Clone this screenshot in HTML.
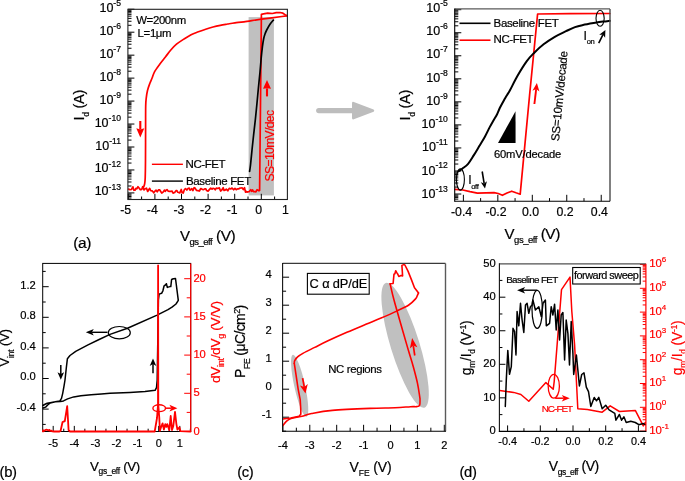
<!DOCTYPE html>
<html><head><meta charset="utf-8"><style>
html,body{margin:0;padding:0;background:#fff;width:685px;height:481px;overflow:hidden}
svg{display:block;will-change:transform}
text{font-family:"Liberation Sans", sans-serif}
</style></head><body>
<svg width="685" height="481" viewBox="0 0 685 481">
<rect width="685" height="481" fill="#fff"/>
<rect x="248.6" y="17.1" width="25.3" height="178.3" fill="#c0c0c0"/>
<line x1="127.90" y1="192.92" x2="134.40" y2="192.92" stroke="#000" stroke-width="1"/>
<line x1="127.90" y1="198.01" x2="131.50" y2="198.01" stroke="#000" stroke-width="1"/>
<line x1="127.90" y1="196.48" x2="131.50" y2="196.48" stroke="#000" stroke-width="1"/>
<line x1="127.90" y1="195.15" x2="131.50" y2="195.15" stroke="#000" stroke-width="1"/>
<line x1="127.90" y1="193.97" x2="131.50" y2="193.97" stroke="#000" stroke-width="1"/>
<line x1="127.90" y1="169.96" x2="134.40" y2="169.96" stroke="#000" stroke-width="1"/>
<line x1="127.90" y1="186.01" x2="131.50" y2="186.01" stroke="#000" stroke-width="1"/>
<line x1="127.90" y1="181.97" x2="131.50" y2="181.97" stroke="#000" stroke-width="1"/>
<line x1="127.90" y1="179.10" x2="131.50" y2="179.10" stroke="#000" stroke-width="1"/>
<line x1="127.90" y1="176.87" x2="131.50" y2="176.87" stroke="#000" stroke-width="1"/>
<line x1="127.90" y1="175.05" x2="131.50" y2="175.05" stroke="#000" stroke-width="1"/>
<line x1="127.90" y1="173.52" x2="131.50" y2="173.52" stroke="#000" stroke-width="1"/>
<line x1="127.90" y1="172.19" x2="131.50" y2="172.19" stroke="#000" stroke-width="1"/>
<line x1="127.90" y1="171.01" x2="131.50" y2="171.01" stroke="#000" stroke-width="1"/>
<line x1="127.90" y1="147.00" x2="134.40" y2="147.00" stroke="#000" stroke-width="1"/>
<line x1="127.90" y1="163.05" x2="131.50" y2="163.05" stroke="#000" stroke-width="1"/>
<line x1="127.90" y1="159.01" x2="131.50" y2="159.01" stroke="#000" stroke-width="1"/>
<line x1="127.90" y1="156.14" x2="131.50" y2="156.14" stroke="#000" stroke-width="1"/>
<line x1="127.90" y1="153.91" x2="131.50" y2="153.91" stroke="#000" stroke-width="1"/>
<line x1="127.90" y1="152.09" x2="131.50" y2="152.09" stroke="#000" stroke-width="1"/>
<line x1="127.90" y1="150.56" x2="131.50" y2="150.56" stroke="#000" stroke-width="1"/>
<line x1="127.90" y1="149.23" x2="131.50" y2="149.23" stroke="#000" stroke-width="1"/>
<line x1="127.90" y1="148.05" x2="131.50" y2="148.05" stroke="#000" stroke-width="1"/>
<line x1="127.90" y1="124.04" x2="134.40" y2="124.04" stroke="#000" stroke-width="1"/>
<line x1="127.90" y1="140.09" x2="131.50" y2="140.09" stroke="#000" stroke-width="1"/>
<line x1="127.90" y1="136.05" x2="131.50" y2="136.05" stroke="#000" stroke-width="1"/>
<line x1="127.90" y1="133.18" x2="131.50" y2="133.18" stroke="#000" stroke-width="1"/>
<line x1="127.90" y1="130.95" x2="131.50" y2="130.95" stroke="#000" stroke-width="1"/>
<line x1="127.90" y1="129.13" x2="131.50" y2="129.13" stroke="#000" stroke-width="1"/>
<line x1="127.90" y1="127.60" x2="131.50" y2="127.60" stroke="#000" stroke-width="1"/>
<line x1="127.90" y1="126.27" x2="131.50" y2="126.27" stroke="#000" stroke-width="1"/>
<line x1="127.90" y1="125.09" x2="131.50" y2="125.09" stroke="#000" stroke-width="1"/>
<line x1="127.90" y1="101.08" x2="134.40" y2="101.08" stroke="#000" stroke-width="1"/>
<line x1="127.90" y1="117.13" x2="131.50" y2="117.13" stroke="#000" stroke-width="1"/>
<line x1="127.90" y1="113.09" x2="131.50" y2="113.09" stroke="#000" stroke-width="1"/>
<line x1="127.90" y1="110.22" x2="131.50" y2="110.22" stroke="#000" stroke-width="1"/>
<line x1="127.90" y1="107.99" x2="131.50" y2="107.99" stroke="#000" stroke-width="1"/>
<line x1="127.90" y1="106.17" x2="131.50" y2="106.17" stroke="#000" stroke-width="1"/>
<line x1="127.90" y1="104.64" x2="131.50" y2="104.64" stroke="#000" stroke-width="1"/>
<line x1="127.90" y1="103.31" x2="131.50" y2="103.31" stroke="#000" stroke-width="1"/>
<line x1="127.90" y1="102.13" x2="131.50" y2="102.13" stroke="#000" stroke-width="1"/>
<line x1="127.90" y1="78.12" x2="134.40" y2="78.12" stroke="#000" stroke-width="1"/>
<line x1="127.90" y1="94.17" x2="131.50" y2="94.17" stroke="#000" stroke-width="1"/>
<line x1="127.90" y1="90.13" x2="131.50" y2="90.13" stroke="#000" stroke-width="1"/>
<line x1="127.90" y1="87.26" x2="131.50" y2="87.26" stroke="#000" stroke-width="1"/>
<line x1="127.90" y1="85.03" x2="131.50" y2="85.03" stroke="#000" stroke-width="1"/>
<line x1="127.90" y1="83.21" x2="131.50" y2="83.21" stroke="#000" stroke-width="1"/>
<line x1="127.90" y1="81.68" x2="131.50" y2="81.68" stroke="#000" stroke-width="1"/>
<line x1="127.90" y1="80.35" x2="131.50" y2="80.35" stroke="#000" stroke-width="1"/>
<line x1="127.90" y1="79.17" x2="131.50" y2="79.17" stroke="#000" stroke-width="1"/>
<line x1="127.90" y1="55.16" x2="134.40" y2="55.16" stroke="#000" stroke-width="1"/>
<line x1="127.90" y1="71.21" x2="131.50" y2="71.21" stroke="#000" stroke-width="1"/>
<line x1="127.90" y1="67.17" x2="131.50" y2="67.17" stroke="#000" stroke-width="1"/>
<line x1="127.90" y1="64.30" x2="131.50" y2="64.30" stroke="#000" stroke-width="1"/>
<line x1="127.90" y1="62.07" x2="131.50" y2="62.07" stroke="#000" stroke-width="1"/>
<line x1="127.90" y1="60.25" x2="131.50" y2="60.25" stroke="#000" stroke-width="1"/>
<line x1="127.90" y1="58.72" x2="131.50" y2="58.72" stroke="#000" stroke-width="1"/>
<line x1="127.90" y1="57.39" x2="131.50" y2="57.39" stroke="#000" stroke-width="1"/>
<line x1="127.90" y1="56.21" x2="131.50" y2="56.21" stroke="#000" stroke-width="1"/>
<line x1="127.90" y1="32.20" x2="134.40" y2="32.20" stroke="#000" stroke-width="1"/>
<line x1="127.90" y1="48.25" x2="131.50" y2="48.25" stroke="#000" stroke-width="1"/>
<line x1="127.90" y1="44.21" x2="131.50" y2="44.21" stroke="#000" stroke-width="1"/>
<line x1="127.90" y1="41.34" x2="131.50" y2="41.34" stroke="#000" stroke-width="1"/>
<line x1="127.90" y1="39.11" x2="131.50" y2="39.11" stroke="#000" stroke-width="1"/>
<line x1="127.90" y1="37.29" x2="131.50" y2="37.29" stroke="#000" stroke-width="1"/>
<line x1="127.90" y1="35.76" x2="131.50" y2="35.76" stroke="#000" stroke-width="1"/>
<line x1="127.90" y1="34.43" x2="131.50" y2="34.43" stroke="#000" stroke-width="1"/>
<line x1="127.90" y1="33.25" x2="131.50" y2="33.25" stroke="#000" stroke-width="1"/>
<line x1="127.90" y1="9.24" x2="134.40" y2="9.24" stroke="#000" stroke-width="1"/>
<line x1="127.90" y1="25.29" x2="131.50" y2="25.29" stroke="#000" stroke-width="1"/>
<line x1="127.90" y1="21.25" x2="131.50" y2="21.25" stroke="#000" stroke-width="1"/>
<line x1="127.90" y1="18.38" x2="131.50" y2="18.38" stroke="#000" stroke-width="1"/>
<line x1="127.90" y1="16.15" x2="131.50" y2="16.15" stroke="#000" stroke-width="1"/>
<line x1="127.90" y1="14.33" x2="131.50" y2="14.33" stroke="#000" stroke-width="1"/>
<line x1="127.90" y1="12.80" x2="131.50" y2="12.80" stroke="#000" stroke-width="1"/>
<line x1="127.90" y1="11.47" x2="131.50" y2="11.47" stroke="#000" stroke-width="1"/>
<line x1="127.90" y1="10.29" x2="131.50" y2="10.29" stroke="#000" stroke-width="1"/>
<line x1="128.30" y1="199.50" x2="128.30" y2="193.80" stroke="#000" stroke-width="1"/>
<line x1="141.60" y1="199.50" x2="141.60" y2="196.50" stroke="#000" stroke-width="1"/>
<line x1="154.90" y1="199.50" x2="154.90" y2="193.80" stroke="#000" stroke-width="1"/>
<line x1="168.20" y1="199.50" x2="168.20" y2="196.50" stroke="#000" stroke-width="1"/>
<line x1="181.50" y1="199.50" x2="181.50" y2="193.80" stroke="#000" stroke-width="1"/>
<line x1="194.80" y1="199.50" x2="194.80" y2="196.50" stroke="#000" stroke-width="1"/>
<line x1="208.10" y1="199.50" x2="208.10" y2="193.80" stroke="#000" stroke-width="1"/>
<line x1="221.40" y1="199.50" x2="221.40" y2="196.50" stroke="#000" stroke-width="1"/>
<line x1="234.70" y1="199.50" x2="234.70" y2="193.80" stroke="#000" stroke-width="1"/>
<line x1="248.00" y1="199.50" x2="248.00" y2="196.50" stroke="#000" stroke-width="1"/>
<line x1="261.30" y1="199.50" x2="261.30" y2="193.80" stroke="#000" stroke-width="1"/>
<line x1="274.60" y1="199.50" x2="274.60" y2="196.50" stroke="#000" stroke-width="1"/>
<text transform="translate(121.00,11.74)" font-size="12.5" fill="#000" stroke="#000" stroke-width="0.2" text-anchor="end"><tspan font-size="12.5">10</tspan><tspan font-size="8.6" dy="-5.9">-5</tspan></text>
<text transform="translate(121.00,34.70)" font-size="12.5" fill="#000" stroke="#000" stroke-width="0.2" text-anchor="end"><tspan font-size="12.5">10</tspan><tspan font-size="8.6" dy="-5.9">-6</tspan></text>
<text transform="translate(121.00,57.66)" font-size="12.5" fill="#000" stroke="#000" stroke-width="0.2" text-anchor="end"><tspan font-size="12.5">10</tspan><tspan font-size="8.6" dy="-5.9">-7</tspan></text>
<text transform="translate(121.00,80.62)" font-size="12.5" fill="#000" stroke="#000" stroke-width="0.2" text-anchor="end"><tspan font-size="12.5">10</tspan><tspan font-size="8.6" dy="-5.9">-8</tspan></text>
<text transform="translate(121.00,103.58)" font-size="12.5" fill="#000" stroke="#000" stroke-width="0.2" text-anchor="end"><tspan font-size="12.5">10</tspan><tspan font-size="8.6" dy="-5.9">-9</tspan></text>
<text transform="translate(121.00,126.54)" font-size="12.5" fill="#000" stroke="#000" stroke-width="0.2" text-anchor="end"><tspan font-size="12.5">10</tspan><tspan font-size="8.6" dy="-5.9">-10</tspan></text>
<text transform="translate(121.00,149.50)" font-size="12.5" fill="#000" stroke="#000" stroke-width="0.2" text-anchor="end"><tspan font-size="12.5">10</tspan><tspan font-size="8.6" dy="-5.9">-11</tspan></text>
<text transform="translate(121.00,172.46)" font-size="12.5" fill="#000" stroke="#000" stroke-width="0.2" text-anchor="end"><tspan font-size="12.5">10</tspan><tspan font-size="8.6" dy="-5.9">-12</tspan></text>
<text transform="translate(121.00,195.42)" font-size="12.5" fill="#000" stroke="#000" stroke-width="0.2" text-anchor="end"><tspan font-size="12.5">10</tspan><tspan font-size="8.6" dy="-5.9">-13</tspan></text>
<text x="125.70" y="214.00" font-size="12.3" text-anchor="middle" fill="#000" stroke="#000" stroke-width="0.2">-5</text>
<text x="152.30" y="214.00" font-size="12.3" text-anchor="middle" fill="#000" stroke="#000" stroke-width="0.2">-4</text>
<text x="178.90" y="214.00" font-size="12.3" text-anchor="middle" fill="#000" stroke="#000" stroke-width="0.2">-3</text>
<text x="205.50" y="214.00" font-size="12.3" text-anchor="middle" fill="#000" stroke="#000" stroke-width="0.2">-2</text>
<text x="232.10" y="214.00" font-size="12.3" text-anchor="middle" fill="#000" stroke="#000" stroke-width="0.2">-1</text>
<text x="258.70" y="214.00" font-size="12.3" text-anchor="middle" fill="#000" stroke="#000" stroke-width="0.2">0</text>
<text x="285.30" y="214.00" font-size="12.3" text-anchor="middle" fill="#000" stroke="#000" stroke-width="0.2">1</text>
<text transform="translate(83.90,120.40) rotate(-90)" font-size="14.5" fill="#000" stroke="#000" stroke-width="0.2" text-anchor="start" letter-spacing="-0.3"><tspan font-size="14.5">I</tspan><tspan font-size="8.5" dy="5.0">d</tspan><tspan font-size="14.5" dy="-5.0"> (A)</tspan></text>
<text transform="translate(180.00,240.70)" font-size="15" fill="#000" stroke="#000" stroke-width="0.2" text-anchor="start" letter-spacing="-0.5"><tspan font-size="15">V</tspan><tspan font-size="9.5" dy="4.1">gs_eff</tspan><tspan font-size="15.5" dy="-4.1"> (V)</tspan></text>
<text x="73.20" y="248.20" font-size="15.5" text-anchor="start" fill="#000" stroke="#000" stroke-width="0.2" letter-spacing="-0.4">(a)</text>
<text x="136.20" y="23.60" font-size="11.4" text-anchor="start" fill="#000" stroke="#000" stroke-width="0.2" letter-spacing="-0.35">W=200nm</text>
<text x="137.60" y="37.00" font-size="11.4" text-anchor="start" fill="#000" stroke="#000" stroke-width="0.2" letter-spacing="-0.35">L=1&#956;m</text>
<line x1="151.90" y1="164.30" x2="182.90" y2="164.30" stroke="#f00" stroke-width="1.4"/>
<text x="185.60" y="167.90" font-size="11.5" text-anchor="start" fill="#000" stroke="#000" stroke-width="0.2" letter-spacing="-0.45">NC-FET</text>
<line x1="151.90" y1="181.10" x2="182.90" y2="181.10" stroke="#000" stroke-width="1.4"/>
<text x="186.00" y="184.60" font-size="11.5" text-anchor="start" fill="#000" stroke="#000" stroke-width="0.2" letter-spacing="-0.35">Baseline FET</text>
<text transform="translate(274.40,181.40) rotate(-90)" font-size="12.2" fill="#f00" stroke="#f00" stroke-width="0.2" text-anchor="start" letter-spacing="-0.68"><tspan font-size="12.2">SS=10mV/dec</tspan></text>
<polyline points="128.60,189.07 129.91,189.72 131.40,189.51 132.87,186.81 133.94,190.28 135.17,190.12 135.93,188.48 136.81,188.77 137.98,186.75 138.83,187.76 140.29,189.61 141.09,189.73 141.88,189.05 142.65,186.71 144.00,189.87 145.03,188.70 146.52,188.22 147.67,191.43 148.44,190.20 149.69,188.35 150.73,190.73 151.84,190.81 152.50,191.13 153.70,192.83 154.82,191.33 156.05,190.16 157.21,191.77 158.63,189.84 159.60,189.83 161.04,192.00 161.77,193.04 163.34,191.85 164.60,190.07 165.30,191.40 166.05,190.18 166.96,189.61 168.08,191.09 169.54,191.37 170.82,191.30 172.12,191.15 173.07,193.09 174.67,192.52 176.02,190.63 176.92,190.54 177.67,192.26 178.73,192.55 179.78,192.95 181.24,189.50 182.13,192.78 183.25,193.03 184.31,189.76 185.50,188.53 186.82,190.06 188.29,188.27 189.19,188.13 190.09,190.24 190.90,189.51 191.79,188.66 192.87,190.62 194.12,187.65 195.07,188.13 196.56,190.52 197.99,190.57 199.37,191.02 200.79,188.52 202.26,189.35 203.64,189.63 204.73,188.91 205.81,188.73 206.61,190.55 208.04,191.15 209.36,189.60 210.74,188.09 212.05,189.20 212.91,188.33 214.08,188.51 215.19,189.78 216.24,188.07 217.39,188.45 218.29,188.30 219.32,187.86 220.61,191.03 221.66,190.19 223.20,187.76 224.03,190.50 225.49,189.90 226.32,189.09 227.81,190.79 229.24,188.33 230.72,188.95 232.07,188.09 233.65,189.77 235.00,188.36 236.26,189.69 237.50,188.89 238.86,188.83 239.82,188.19 241.14,188.00 242.03,187.85 243.32,189.60 244.51,187.74 245.50,192.09 246.20,191.36 247.04,192.16 247.74,191.81 249.06,191.74 250.67,189.77 251.67,191.27 252.62,189.84 253.52,191.75 255.01,191.55 255.91,191.96 257.07,189.74 258.18,190.34 258.94,190.81 259.60,190.50 261.40,14.30 263.50,13.90 267.70,13.20 272.40,13.50 276.20,12.70 280.00,12.50 282.90,13.20 285.70,15.10 287.20,15.80" fill="none" stroke="#f00" stroke-width="1.7" stroke-linejoin="round" stroke-linecap="round" />
<path d="M287.20,15.80 C286.32,15.92 286.18,15.93 281.90,16.50 C277.62,17.07 267.82,18.32 261.50,19.20 C255.18,20.08 248.43,21.20 244.00,21.80 C239.57,22.40 237.63,22.43 234.90,22.80 C232.17,23.17 230.03,23.58 227.60,24.00 C225.17,24.42 222.73,24.80 220.30,25.30 C217.87,25.80 215.43,26.35 213.00,27.00 C210.57,27.65 208.13,28.40 205.70,29.20 C203.27,30.00 200.83,30.88 198.40,31.80 C195.97,32.72 193.53,33.48 191.10,34.70 C188.67,35.92 186.23,37.52 183.80,39.10 C181.37,40.68 178.67,42.38 176.50,44.20 C174.33,46.02 172.65,47.87 170.80,50.00 C168.95,52.13 167.22,54.67 165.40,57.00 C163.58,59.33 161.72,61.53 159.90,64.00 C158.08,66.47 155.80,69.47 154.50,71.80 C153.20,74.13 152.88,76.05 152.10,78.00 C151.32,79.95 150.57,81.42 149.80,83.50 C149.03,85.58 148.10,88.03 147.50,90.50 C146.90,92.97 146.50,95.72 146.20,98.30 C145.90,100.88 145.80,101.55 145.70,106.00 C145.60,110.45 145.63,116.00 145.60,125.00 C145.57,134.00 145.57,151.17 145.50,160.00 C145.43,168.83 145.35,174.00 145.20,178.00 C145.05,182.00 144.90,182.42 144.60,184.00 C144.30,185.58 143.60,186.92 143.40,187.50" fill="none" stroke="#f00" stroke-width="1.7" stroke-linejoin="round" stroke-linecap="round"/>
<path d="M249.60,171.30 C249.75,170.25 250.10,168.55 250.50,165.00 C250.90,161.45 251.48,155.00 252.00,150.00 C252.52,145.00 253.05,140.00 253.60,135.00 C254.15,130.00 254.75,125.17 255.30,120.00 C255.85,114.83 256.38,109.33 256.90,104.00 C257.42,98.67 257.88,93.33 258.40,88.00 C258.92,82.67 259.53,77.00 260.00,72.00 C260.47,67.00 260.80,62.17 261.20,58.00 C261.60,53.83 262.00,50.17 262.40,47.00 C262.80,43.83 263.17,41.17 263.60,39.00 C264.03,36.83 264.48,35.50 265.00,34.00 C265.52,32.50 265.87,31.63 266.70,30.00 C267.53,28.37 268.88,25.85 270.00,24.20 C271.12,22.55 272.83,20.78 273.40,20.10" fill="none" stroke="#000" stroke-width="1.7" stroke-linejoin="round" stroke-linecap="round"/>
<line x1="140.30" y1="121.00" x2="140.30" y2="129.58" stroke="#f00" stroke-width="2.1"/>
<path d="M140.30,137.40 L136.30,128.20 L140.30,129.58 L144.30,128.20 Z" fill="#f00"/>
<line x1="267.00" y1="96.40" x2="267.00" y2="88.36" stroke="#f00" stroke-width="2.1"/>
<path d="M267.00,80.00 L271.00,88.80 L267.00,88.36 L263.00,88.80 Z" fill="#f00"/>
<rect x="127.90" y="9.30" width="159.50" height="190.20" fill="none" stroke="#222" stroke-width="1.1"/>
<path d="M318.8,110.6 L352.5,110.6" stroke="#bdbdbd" stroke-width="5.4" stroke-linecap="round"/>
<path d="M353.8,101.9 L373.6,109.4 Q375.0,110.6 373.6,111.8 L353.8,119.3 Q352.0,119.9 352.0,118.0 L352.0,103.2 Q352.0,101.3 353.8,101.9 Z" fill="#bdbdbd"/>
<line x1="454.70" y1="194.02" x2="461.30" y2="194.02" stroke="#000" stroke-width="1"/>
<line x1="454.70" y1="199.13" x2="458.30" y2="199.13" stroke="#000" stroke-width="1"/>
<line x1="454.70" y1="197.59" x2="458.30" y2="197.59" stroke="#000" stroke-width="1"/>
<line x1="454.70" y1="196.25" x2="458.30" y2="196.25" stroke="#000" stroke-width="1"/>
<line x1="454.70" y1="195.07" x2="458.30" y2="195.07" stroke="#000" stroke-width="1"/>
<line x1="454.70" y1="170.98" x2="461.30" y2="170.98" stroke="#000" stroke-width="1"/>
<line x1="454.70" y1="187.08" x2="458.30" y2="187.08" stroke="#000" stroke-width="1"/>
<line x1="454.70" y1="183.03" x2="458.30" y2="183.03" stroke="#000" stroke-width="1"/>
<line x1="454.70" y1="180.15" x2="458.30" y2="180.15" stroke="#000" stroke-width="1"/>
<line x1="454.70" y1="177.92" x2="458.30" y2="177.92" stroke="#000" stroke-width="1"/>
<line x1="454.70" y1="176.09" x2="458.30" y2="176.09" stroke="#000" stroke-width="1"/>
<line x1="454.70" y1="174.55" x2="458.30" y2="174.55" stroke="#000" stroke-width="1"/>
<line x1="454.70" y1="173.21" x2="458.30" y2="173.21" stroke="#000" stroke-width="1"/>
<line x1="454.70" y1="172.03" x2="458.30" y2="172.03" stroke="#000" stroke-width="1"/>
<line x1="454.70" y1="147.94" x2="461.30" y2="147.94" stroke="#000" stroke-width="1"/>
<line x1="454.70" y1="164.04" x2="458.30" y2="164.04" stroke="#000" stroke-width="1"/>
<line x1="454.70" y1="159.99" x2="458.30" y2="159.99" stroke="#000" stroke-width="1"/>
<line x1="454.70" y1="157.11" x2="458.30" y2="157.11" stroke="#000" stroke-width="1"/>
<line x1="454.70" y1="154.88" x2="458.30" y2="154.88" stroke="#000" stroke-width="1"/>
<line x1="454.70" y1="153.05" x2="458.30" y2="153.05" stroke="#000" stroke-width="1"/>
<line x1="454.70" y1="151.51" x2="458.30" y2="151.51" stroke="#000" stroke-width="1"/>
<line x1="454.70" y1="150.17" x2="458.30" y2="150.17" stroke="#000" stroke-width="1"/>
<line x1="454.70" y1="148.99" x2="458.30" y2="148.99" stroke="#000" stroke-width="1"/>
<line x1="454.70" y1="124.90" x2="461.30" y2="124.90" stroke="#000" stroke-width="1"/>
<line x1="454.70" y1="141.00" x2="458.30" y2="141.00" stroke="#000" stroke-width="1"/>
<line x1="454.70" y1="136.95" x2="458.30" y2="136.95" stroke="#000" stroke-width="1"/>
<line x1="454.70" y1="134.07" x2="458.30" y2="134.07" stroke="#000" stroke-width="1"/>
<line x1="454.70" y1="131.84" x2="458.30" y2="131.84" stroke="#000" stroke-width="1"/>
<line x1="454.70" y1="130.01" x2="458.30" y2="130.01" stroke="#000" stroke-width="1"/>
<line x1="454.70" y1="128.47" x2="458.30" y2="128.47" stroke="#000" stroke-width="1"/>
<line x1="454.70" y1="127.13" x2="458.30" y2="127.13" stroke="#000" stroke-width="1"/>
<line x1="454.70" y1="125.95" x2="458.30" y2="125.95" stroke="#000" stroke-width="1"/>
<line x1="454.70" y1="101.86" x2="461.30" y2="101.86" stroke="#000" stroke-width="1"/>
<line x1="454.70" y1="117.96" x2="458.30" y2="117.96" stroke="#000" stroke-width="1"/>
<line x1="454.70" y1="113.91" x2="458.30" y2="113.91" stroke="#000" stroke-width="1"/>
<line x1="454.70" y1="111.03" x2="458.30" y2="111.03" stroke="#000" stroke-width="1"/>
<line x1="454.70" y1="108.80" x2="458.30" y2="108.80" stroke="#000" stroke-width="1"/>
<line x1="454.70" y1="106.97" x2="458.30" y2="106.97" stroke="#000" stroke-width="1"/>
<line x1="454.70" y1="105.43" x2="458.30" y2="105.43" stroke="#000" stroke-width="1"/>
<line x1="454.70" y1="104.09" x2="458.30" y2="104.09" stroke="#000" stroke-width="1"/>
<line x1="454.70" y1="102.91" x2="458.30" y2="102.91" stroke="#000" stroke-width="1"/>
<line x1="454.70" y1="78.82" x2="461.30" y2="78.82" stroke="#000" stroke-width="1"/>
<line x1="454.70" y1="94.92" x2="458.30" y2="94.92" stroke="#000" stroke-width="1"/>
<line x1="454.70" y1="90.87" x2="458.30" y2="90.87" stroke="#000" stroke-width="1"/>
<line x1="454.70" y1="87.99" x2="458.30" y2="87.99" stroke="#000" stroke-width="1"/>
<line x1="454.70" y1="85.76" x2="458.30" y2="85.76" stroke="#000" stroke-width="1"/>
<line x1="454.70" y1="83.93" x2="458.30" y2="83.93" stroke="#000" stroke-width="1"/>
<line x1="454.70" y1="82.39" x2="458.30" y2="82.39" stroke="#000" stroke-width="1"/>
<line x1="454.70" y1="81.05" x2="458.30" y2="81.05" stroke="#000" stroke-width="1"/>
<line x1="454.70" y1="79.87" x2="458.30" y2="79.87" stroke="#000" stroke-width="1"/>
<line x1="454.70" y1="55.78" x2="461.30" y2="55.78" stroke="#000" stroke-width="1"/>
<line x1="454.70" y1="71.88" x2="458.30" y2="71.88" stroke="#000" stroke-width="1"/>
<line x1="454.70" y1="67.83" x2="458.30" y2="67.83" stroke="#000" stroke-width="1"/>
<line x1="454.70" y1="64.95" x2="458.30" y2="64.95" stroke="#000" stroke-width="1"/>
<line x1="454.70" y1="62.72" x2="458.30" y2="62.72" stroke="#000" stroke-width="1"/>
<line x1="454.70" y1="60.89" x2="458.30" y2="60.89" stroke="#000" stroke-width="1"/>
<line x1="454.70" y1="59.35" x2="458.30" y2="59.35" stroke="#000" stroke-width="1"/>
<line x1="454.70" y1="58.01" x2="458.30" y2="58.01" stroke="#000" stroke-width="1"/>
<line x1="454.70" y1="56.83" x2="458.30" y2="56.83" stroke="#000" stroke-width="1"/>
<line x1="454.70" y1="32.74" x2="461.30" y2="32.74" stroke="#000" stroke-width="1"/>
<line x1="454.70" y1="48.84" x2="458.30" y2="48.84" stroke="#000" stroke-width="1"/>
<line x1="454.70" y1="44.79" x2="458.30" y2="44.79" stroke="#000" stroke-width="1"/>
<line x1="454.70" y1="41.91" x2="458.30" y2="41.91" stroke="#000" stroke-width="1"/>
<line x1="454.70" y1="39.68" x2="458.30" y2="39.68" stroke="#000" stroke-width="1"/>
<line x1="454.70" y1="37.85" x2="458.30" y2="37.85" stroke="#000" stroke-width="1"/>
<line x1="454.70" y1="36.31" x2="458.30" y2="36.31" stroke="#000" stroke-width="1"/>
<line x1="454.70" y1="34.97" x2="458.30" y2="34.97" stroke="#000" stroke-width="1"/>
<line x1="454.70" y1="33.79" x2="458.30" y2="33.79" stroke="#000" stroke-width="1"/>
<line x1="454.70" y1="9.70" x2="461.30" y2="9.70" stroke="#000" stroke-width="1"/>
<line x1="454.70" y1="25.80" x2="458.30" y2="25.80" stroke="#000" stroke-width="1"/>
<line x1="454.70" y1="21.75" x2="458.30" y2="21.75" stroke="#000" stroke-width="1"/>
<line x1="454.70" y1="18.87" x2="458.30" y2="18.87" stroke="#000" stroke-width="1"/>
<line x1="454.70" y1="16.64" x2="458.30" y2="16.64" stroke="#000" stroke-width="1"/>
<line x1="454.70" y1="14.81" x2="458.30" y2="14.81" stroke="#000" stroke-width="1"/>
<line x1="454.70" y1="13.27" x2="458.30" y2="13.27" stroke="#000" stroke-width="1"/>
<line x1="454.70" y1="11.93" x2="458.30" y2="11.93" stroke="#000" stroke-width="1"/>
<line x1="454.70" y1="10.75" x2="458.30" y2="10.75" stroke="#000" stroke-width="1"/>
<line x1="463.38" y1="201.20" x2="463.38" y2="194.80" stroke="#000" stroke-width="1"/>
<line x1="480.61" y1="201.20" x2="480.61" y2="198.10" stroke="#000" stroke-width="1"/>
<line x1="497.84" y1="201.20" x2="497.84" y2="194.80" stroke="#000" stroke-width="1"/>
<line x1="515.07" y1="201.20" x2="515.07" y2="198.10" stroke="#000" stroke-width="1"/>
<line x1="532.30" y1="201.20" x2="532.30" y2="194.80" stroke="#000" stroke-width="1"/>
<line x1="549.53" y1="201.20" x2="549.53" y2="198.10" stroke="#000" stroke-width="1"/>
<line x1="566.76" y1="201.20" x2="566.76" y2="194.80" stroke="#000" stroke-width="1"/>
<line x1="583.99" y1="201.20" x2="583.99" y2="198.10" stroke="#000" stroke-width="1"/>
<line x1="601.22" y1="201.20" x2="601.22" y2="194.80" stroke="#000" stroke-width="1"/>
<text transform="translate(447.80,12.00)" font-size="12.5" fill="#000" stroke="#000" stroke-width="0.2" text-anchor="end"><tspan font-size="12.5">10</tspan><tspan font-size="8.6" dy="-6.2">-5</tspan></text>
<text transform="translate(447.80,35.24)" font-size="12.5" fill="#000" stroke="#000" stroke-width="0.2" text-anchor="end"><tspan font-size="12.5">10</tspan><tspan font-size="8.6" dy="-6.2">-6</tspan></text>
<text transform="translate(447.80,58.48)" font-size="12.5" fill="#000" stroke="#000" stroke-width="0.2" text-anchor="end"><tspan font-size="12.5">10</tspan><tspan font-size="8.6" dy="-6.2">-7</tspan></text>
<text transform="translate(447.80,81.72)" font-size="12.5" fill="#000" stroke="#000" stroke-width="0.2" text-anchor="end"><tspan font-size="12.5">10</tspan><tspan font-size="8.6" dy="-6.2">-8</tspan></text>
<text transform="translate(447.80,104.96)" font-size="12.5" fill="#000" stroke="#000" stroke-width="0.2" text-anchor="end"><tspan font-size="12.5">10</tspan><tspan font-size="8.6" dy="-6.2">-9</tspan></text>
<text transform="translate(447.80,128.20)" font-size="12.5" fill="#000" stroke="#000" stroke-width="0.2" text-anchor="end"><tspan font-size="12.5">10</tspan><tspan font-size="8.6" dy="-6.2">-10</tspan></text>
<text transform="translate(447.80,151.44)" font-size="12.5" fill="#000" stroke="#000" stroke-width="0.2" text-anchor="end"><tspan font-size="12.5">10</tspan><tspan font-size="8.6" dy="-6.2">-11</tspan></text>
<text transform="translate(447.80,174.68)" font-size="12.5" fill="#000" stroke="#000" stroke-width="0.2" text-anchor="end"><tspan font-size="12.5">10</tspan><tspan font-size="8.6" dy="-6.2">-12</tspan></text>
<text transform="translate(447.80,197.92)" font-size="12.5" fill="#000" stroke="#000" stroke-width="0.2" text-anchor="end"><tspan font-size="12.5">10</tspan><tspan font-size="8.6" dy="-6.2">-13</tspan></text>
<text x="461.58" y="216.40" font-size="12.3" text-anchor="middle" fill="#000" stroke="#000" stroke-width="0.2">-0.4</text>
<text x="496.04" y="216.40" font-size="12.3" text-anchor="middle" fill="#000" stroke="#000" stroke-width="0.2">-0.2</text>
<text x="530.50" y="216.40" font-size="12.3" text-anchor="middle" fill="#000" stroke="#000" stroke-width="0.2">0.0</text>
<text x="564.96" y="216.40" font-size="12.3" text-anchor="middle" fill="#000" stroke="#000" stroke-width="0.2">0.2</text>
<text x="599.42" y="216.40" font-size="12.3" text-anchor="middle" fill="#000" stroke="#000" stroke-width="0.2">0.4</text>
<text transform="translate(410.30,120.40) rotate(-90)" font-size="14.5" fill="#000" stroke="#000" stroke-width="0.2" text-anchor="start" letter-spacing="-0.3"><tspan font-size="14.5">I</tspan><tspan font-size="8.5" dy="5.0">d</tspan><tspan font-size="14.5" dy="-5.0"> (A)</tspan></text>
<text transform="translate(504.60,238.90)" font-size="15" fill="#000" stroke="#000" stroke-width="0.2" text-anchor="start" letter-spacing="-0.5"><tspan font-size="15">V</tspan><tspan font-size="9.5" dy="4.1">gs_eff</tspan><tspan font-size="15.5" dy="-4.1"> (V)</tspan></text>
<line x1="459.50" y1="23.30" x2="490.50" y2="23.30" stroke="#000" stroke-width="1.6"/>
<text x="493.60" y="27.30" font-size="11.5" text-anchor="start" fill="#000" stroke="#000" stroke-width="0.2" letter-spacing="-0.35">Baseline FET</text>
<line x1="459.50" y1="40.20" x2="490.50" y2="40.20" stroke="#f00" stroke-width="1.6"/>
<text x="493.60" y="43.40" font-size="11.5" text-anchor="start" fill="#000" stroke="#000" stroke-width="0.2" letter-spacing="-0.45">NC-FET</text>
<polyline points="455.00,189.30 462.90,190.00 470.00,191.70 477.40,193.20 486.00,192.80 494.00,192.60 498.20,193.50 502.40,195.30 507.00,193.00 511.70,191.20 516.00,192.80 520.20,194.20 529.60,95.00 537.60,14.00 570.00,13.70 609.80,13.50" fill="none" stroke="#f00" stroke-width="1.7" stroke-linejoin="round" stroke-linecap="round" />
<path d="M458.70,171.30 C459.33,170.83 460.93,169.75 462.50,168.50 C464.07,167.25 466.23,165.98 468.10,163.80 C469.97,161.62 471.83,158.35 473.70,155.40 C475.57,152.45 477.43,149.22 479.30,146.10 C481.17,142.98 483.18,139.82 484.90,136.70 C486.62,133.58 488.20,130.05 489.60,127.40 C491.00,124.75 492.05,122.98 493.30,120.80 C494.55,118.62 496.00,116.47 497.10,114.30 C498.20,112.13 498.67,110.30 499.90,107.80 C501.13,105.30 503.30,101.45 504.50,99.30 C505.70,97.15 506.17,96.45 507.10,94.90 C508.03,93.35 508.38,93.15 510.10,90.00 C511.82,86.85 514.62,80.82 517.40,76.00 C520.18,71.18 523.98,64.98 526.80,61.10 C529.62,57.22 531.50,55.50 534.30,52.70 C537.10,49.90 540.18,46.95 543.60,44.30 C547.02,41.65 551.07,38.98 554.80,36.80 C558.53,34.62 562.63,32.82 566.00,31.20 C569.37,29.58 572.17,28.13 575.00,27.10 C577.83,26.07 579.63,25.72 583.00,25.00 C586.37,24.28 591.87,23.37 595.20,22.80 C598.53,22.23 600.57,21.93 603.00,21.60 C605.43,21.27 608.67,20.93 609.80,20.80" fill="none" stroke="#000" stroke-width="2.0" stroke-linejoin="round" stroke-linecap="round"/>
<path d="M498.0,143.0 L515.6,143.0 L515.5,111.3 Z" fill="#000"/>
<text x="494.00" y="158.00" font-size="11.2" text-anchor="start" fill="#000" stroke="#000" stroke-width="0.2" letter-spacing="-0.18">60mV/decade</text>
<text transform="translate(558.90,141.40) rotate(-84.4)" font-size="11.6" fill="#000" stroke="#000" stroke-width="0.2" text-anchor="start" letter-spacing="-0.25"><tspan font-size="11.6">SS=10mV/decade</tspan></text>
<ellipse cx="600.10" cy="18.30" rx="4.10" ry="8.00" fill="none" stroke="#000" stroke-width="1.1" transform="rotate(0 600.10 18.30)"/>
<ellipse cx="460.40" cy="179.50" rx="4.00" ry="10.60" fill="none" stroke="#000" stroke-width="1.1" transform="rotate(0 460.40 179.50)"/>
<line x1="598.70" y1="43.20" x2="602.97" y2="34.72" stroke="#000" stroke-width="1.6"/>
<path d="M605.40,29.90 L605.11,37.81 L602.97,34.72 L599.21,34.85 Z" fill="#000"/>
<line x1="482.20" y1="171.50" x2="484.15" y2="183.42" stroke="#000" stroke-width="1.6"/>
<path d="M485.00,188.60 L480.81,182.19 L484.15,183.42 L486.93,181.19 Z" fill="#000"/>
<text transform="translate(583.50,39.60)" font-size="12.3" fill="#000" stroke="#000" stroke-width="0.2" text-anchor="start" letter-spacing="-0.3"><tspan font-size="12.3">I</tspan><tspan font-size="7.6" dy="4.6">on</tspan></text>
<text transform="translate(468.20,183.60)" font-size="12.3" fill="#000" stroke="#000" stroke-width="0.2" text-anchor="start" letter-spacing="-0.4"><tspan font-size="12.3">I</tspan><tspan font-size="7.6" dy="5.0">off</tspan></text>
<line x1="534.40" y1="104.00" x2="536.17" y2="89.11" stroke="#f00" stroke-width="1.9"/>
<path d="M536.90,83.00 L539.41,91.56 L536.17,89.11 L532.46,90.73 Z" fill="#f00"/>
<line x1="454.70" y1="8.90" x2="610.00" y2="8.90" stroke="#5a5a5a" stroke-width="1.4"/>
<line x1="610.00" y1="8.90" x2="610.00" y2="201.20" stroke="#4a4a4a" stroke-width="1.4"/>
<line x1="454.70" y1="8.40" x2="454.70" y2="201.70" stroke="#000" stroke-width="1.1"/>
<line x1="454.70" y1="201.20" x2="610.00" y2="201.20" stroke="#000" stroke-width="1.1"/>
<line x1="42.70" y1="424.40" x2="45.70" y2="424.40" stroke="#000" stroke-width="1"/>
<line x1="42.70" y1="409.10" x2="48.70" y2="409.10" stroke="#000" stroke-width="1"/>
<line x1="42.70" y1="393.80" x2="45.70" y2="393.80" stroke="#000" stroke-width="1"/>
<line x1="42.70" y1="378.50" x2="48.70" y2="378.50" stroke="#000" stroke-width="1"/>
<line x1="42.70" y1="363.20" x2="45.70" y2="363.20" stroke="#000" stroke-width="1"/>
<line x1="42.70" y1="347.90" x2="48.70" y2="347.90" stroke="#000" stroke-width="1"/>
<line x1="42.70" y1="332.60" x2="45.70" y2="332.60" stroke="#000" stroke-width="1"/>
<line x1="42.70" y1="317.30" x2="48.70" y2="317.30" stroke="#000" stroke-width="1"/>
<line x1="42.70" y1="302.00" x2="45.70" y2="302.00" stroke="#000" stroke-width="1"/>
<line x1="42.70" y1="286.70" x2="48.70" y2="286.70" stroke="#000" stroke-width="1"/>
<line x1="42.70" y1="271.40" x2="45.70" y2="271.40" stroke="#000" stroke-width="1"/>
<line x1="53.20" y1="431.50" x2="53.20" y2="425.90" stroke="#000" stroke-width="1"/>
<line x1="63.75" y1="431.50" x2="63.75" y2="428.70" stroke="#000" stroke-width="1"/>
<line x1="74.30" y1="431.50" x2="74.30" y2="425.90" stroke="#000" stroke-width="1"/>
<line x1="84.85" y1="431.50" x2="84.85" y2="428.70" stroke="#000" stroke-width="1"/>
<line x1="95.40" y1="431.50" x2="95.40" y2="425.90" stroke="#000" stroke-width="1"/>
<line x1="105.95" y1="431.50" x2="105.95" y2="428.70" stroke="#000" stroke-width="1"/>
<line x1="116.50" y1="431.50" x2="116.50" y2="425.90" stroke="#000" stroke-width="1"/>
<line x1="127.05" y1="431.50" x2="127.05" y2="428.70" stroke="#000" stroke-width="1"/>
<line x1="137.60" y1="431.50" x2="137.60" y2="425.90" stroke="#000" stroke-width="1"/>
<line x1="148.15" y1="431.50" x2="148.15" y2="428.70" stroke="#000" stroke-width="1"/>
<line x1="158.70" y1="431.50" x2="158.70" y2="425.90" stroke="#000" stroke-width="1"/>
<line x1="169.25" y1="431.50" x2="169.25" y2="428.70" stroke="#000" stroke-width="1"/>
<line x1="179.80" y1="431.50" x2="179.80" y2="425.90" stroke="#000" stroke-width="1"/>
<line x1="190.35" y1="431.50" x2="190.35" y2="428.70" stroke="#000" stroke-width="1"/>
<line x1="190.70" y1="431.50" x2="184.20" y2="431.50" stroke="#f00" stroke-width="1"/>
<line x1="190.70" y1="412.40" x2="186.70" y2="412.40" stroke="#f00" stroke-width="1"/>
<line x1="190.70" y1="393.30" x2="184.20" y2="393.30" stroke="#f00" stroke-width="1"/>
<line x1="190.70" y1="374.20" x2="186.70" y2="374.20" stroke="#f00" stroke-width="1"/>
<line x1="190.70" y1="355.10" x2="184.20" y2="355.10" stroke="#f00" stroke-width="1"/>
<line x1="190.70" y1="336.00" x2="186.70" y2="336.00" stroke="#f00" stroke-width="1"/>
<line x1="190.70" y1="316.90" x2="184.20" y2="316.90" stroke="#f00" stroke-width="1"/>
<line x1="190.70" y1="297.80" x2="186.70" y2="297.80" stroke="#f00" stroke-width="1"/>
<line x1="190.70" y1="278.70" x2="184.20" y2="278.70" stroke="#f00" stroke-width="1"/>
<text x="35.80" y="288.60" font-size="11.2" text-anchor="end" fill="#000" stroke="#000" stroke-width="0.2">1.2</text>
<text x="35.80" y="319.20" font-size="11.2" text-anchor="end" fill="#000" stroke="#000" stroke-width="0.2">0.8</text>
<text x="35.80" y="349.80" font-size="11.2" text-anchor="end" fill="#000" stroke="#000" stroke-width="0.2">0.4</text>
<text x="35.80" y="380.40" font-size="11.2" text-anchor="end" fill="#000" stroke="#000" stroke-width="0.2">0.0</text>
<text x="35.80" y="411.00" font-size="11.2" text-anchor="end" fill="#000" stroke="#000" stroke-width="0.2">-0.4</text>
<text x="193.40" y="434.50" font-size="11.2" text-anchor="start" fill="#f00" stroke="#f00" stroke-width="0.2">0</text>
<text x="193.40" y="396.30" font-size="11.2" text-anchor="start" fill="#f00" stroke="#f00" stroke-width="0.2">5</text>
<text x="193.40" y="358.10" font-size="11.2" text-anchor="start" fill="#f00" stroke="#f00" stroke-width="0.2">10</text>
<text x="193.40" y="319.90" font-size="11.2" text-anchor="start" fill="#f00" stroke="#f00" stroke-width="0.2">15</text>
<text x="193.40" y="281.70" font-size="11.2" text-anchor="start" fill="#f00" stroke="#f00" stroke-width="0.2">20</text>
<text x="53.20" y="446.50" font-size="11.0" text-anchor="middle" fill="#000" stroke="#000" stroke-width="0.2">-5</text>
<text x="74.30" y="446.50" font-size="11.0" text-anchor="middle" fill="#000" stroke="#000" stroke-width="0.2">-4</text>
<text x="95.40" y="446.50" font-size="11.0" text-anchor="middle" fill="#000" stroke="#000" stroke-width="0.2">-3</text>
<text x="116.50" y="446.50" font-size="11.0" text-anchor="middle" fill="#000" stroke="#000" stroke-width="0.2">-2</text>
<text x="137.60" y="446.50" font-size="11.0" text-anchor="middle" fill="#000" stroke="#000" stroke-width="0.2">-1</text>
<text x="158.70" y="446.50" font-size="11.0" text-anchor="middle" fill="#000" stroke="#000" stroke-width="0.2">0</text>
<text x="179.80" y="446.50" font-size="11.0" text-anchor="middle" fill="#000" stroke="#000" stroke-width="0.2">1</text>
<text transform="translate(9.40,366.60) rotate(-90)" font-size="13" fill="#000" stroke="#000" stroke-width="0.2" text-anchor="start" letter-spacing="-0.1"><tspan font-size="13">V</tspan><tspan font-size="8.3" dy="5.0">int</tspan><tspan font-size="13" dy="-5.0"> (V)</tspan></text>
<text transform="translate(219.80,383.00) rotate(-90)" font-size="13.6" fill="#f00" stroke="#f00" stroke-width="0.2" text-anchor="start" letter-spacing="-0.3"><tspan font-size="13.6">dV</tspan><tspan font-size="9" dy="4.0">int</tspan><tspan font-size="13.6" dy="-4.0">/dV</tspan><tspan font-size="9" dy="4.0">g</tspan><tspan font-size="13.6" dy="-4.0"> (V/V)</tspan></text>
<text transform="translate(90.00,470.60)" font-size="13.3" fill="#000" stroke="#000" stroke-width="0.2" text-anchor="start" letter-spacing="-0.3"><tspan font-size="13.3">V</tspan><tspan font-size="8.5" dy="3.8">gs_eff</tspan><tspan font-size="13.3" dy="-3.8"> (V)</tspan></text>
<text x="-0.40" y="477.40" font-size="14.8" text-anchor="start" fill="#000" stroke="#000" stroke-width="0.2" letter-spacing="-0.4">(b)</text>
<polyline points="43.10,408.00 45.60,407.10 47.70,405.00 50.20,403.00 55.30,401.80 60.40,401.50 63.50,400.90 67.60,398.90 73.70,396.90 80.90,395.80 91.10,394.80 101.30,394.00 110.00,393.30 129.80,392.40 145.00,391.60 155.10,390.30 156.50,387.60 157.20,380.00 157.80,340.00 158.40,300.00 159.10,294.10 161.60,293.30 162.90,290.80 164.10,285.80 165.40,285.00 166.40,283.70 167.30,287.40 169.90,286.60 170.80,286.60 171.60,279.50 173.30,278.70 175.50,278.50 178.30,300.40 176.00,304.00 172.00,307.20 168.00,309.70 157.10,315.10 127.50,328.30 110.00,334.40 98.60,339.80 88.00,344.90 75.70,351.40 70.00,355.50 67.40,358.70 66.30,368.00 65.00,380.00 64.00,386.10 62.70,393.30 61.50,398.40 59.90,400.90 55.30,401.80 50.20,402.70 47.20,403.30 44.60,404.50 42.90,405.50" fill="none" stroke="#000" stroke-width="1.5" stroke-linejoin="round" stroke-linecap="round" />
<line x1="60.80" y1="365.00" x2="60.80" y2="374.07" stroke="#000" stroke-width="1.5"/>
<path d="M60.80,379.70 L57.50,372.20 L60.80,374.07 L64.10,372.20 Z" fill="#000"/>
<line x1="153.00" y1="373.30" x2="153.00" y2="364.12" stroke="#000" stroke-width="1.5"/>
<path d="M153.00,358.50 L156.30,366.00 L153.00,364.12 L149.70,366.00 Z" fill="#000"/>
<ellipse cx="119.30" cy="332.70" rx="11.00" ry="6.20" fill="none" stroke="#000" stroke-width="1.2" transform="rotate(0 119.30 332.70)"/>
<line x1="107.50" y1="332.30" x2="91.80" y2="332.30" stroke="#000" stroke-width="1.4"/>
<path d="M85.80,332.30 L93.80,329.00 L91.80,332.30 L93.80,335.60 Z" fill="#000"/>
<rect x="42.70" y="263.40" width="148.00" height="168.10" fill="none" stroke="#000" stroke-width="1"/>
<polyline points="42.90,431.50 43.20,430.28 43.92,430.87 44.58,430.66 45.47,429.80 46.48,429.77 47.42,429.83 48.10,430.46 49.36,429.92 50.14,430.83 51.49,430.74 52.41,431.46 54.00,431.50 59.50,431.50 60.60,430.80 62.50,422.20 64.80,421.20 67.20,406.20 68.60,430.10 70.00,431.50 154.70,431.50 157.00,418.00 158.00,405.00 158.10,265.30 158.30,405.00 159.30,418.00 159.90,430.80 161.20,426.80 162.60,423.40 163.90,429.50 165.30,424.10 166.40,426.80 167.30,424.10 169.30,430.10 170.70,416.00 172.00,430.10 173.30,426.00 175.00,411.90 176.40,424.10 177.40,429.50 179.50,427.40 180.40,431.20 190.50,431.50" fill="none" stroke="#f00" stroke-width="1.8" stroke-linejoin="round" stroke-linecap="round" />
<ellipse cx="159.20" cy="408.20" rx="6.30" ry="3.40" fill="none" stroke="#f00" stroke-width="1.4" transform="rotate(0 159.20 408.20)"/>
<line x1="165.40" y1="408.20" x2="171.40" y2="408.20" stroke="#f00" stroke-width="1.5"/>
<path d="M177.40,408.20 L169.40,411.60 L171.40,408.20 L169.40,404.80 Z" fill="#f00"/>
<line x1="190.70" y1="263.40" x2="190.70" y2="431.50" stroke="#f00" stroke-width="1.2"/>
<ellipse cx="405.10" cy="345.30" rx="14.40" ry="65.30" fill="#c0c0c0" stroke="none" stroke-width="0" transform="rotate(-17.2 405.10 345.30)"/>
<ellipse cx="299.65" cy="385.70" rx="5.40" ry="31.70" fill="#c0c0c0" stroke="none" stroke-width="0" transform="rotate(-12.4 299.65 385.70)"/>
<line x1="282.60" y1="431.20" x2="286.10" y2="431.20" stroke="#000" stroke-width="1"/>
<line x1="282.60" y1="417.20" x2="289.10" y2="417.20" stroke="#000" stroke-width="1"/>
<line x1="282.60" y1="403.20" x2="286.10" y2="403.20" stroke="#000" stroke-width="1"/>
<line x1="282.60" y1="389.20" x2="289.10" y2="389.20" stroke="#000" stroke-width="1"/>
<line x1="282.60" y1="375.20" x2="286.10" y2="375.20" stroke="#000" stroke-width="1"/>
<line x1="282.60" y1="361.20" x2="289.10" y2="361.20" stroke="#000" stroke-width="1"/>
<line x1="282.60" y1="347.20" x2="286.10" y2="347.20" stroke="#000" stroke-width="1"/>
<line x1="282.60" y1="333.20" x2="289.10" y2="333.20" stroke="#000" stroke-width="1"/>
<line x1="282.60" y1="319.20" x2="286.10" y2="319.20" stroke="#000" stroke-width="1"/>
<line x1="282.60" y1="305.20" x2="289.10" y2="305.20" stroke="#000" stroke-width="1"/>
<line x1="282.60" y1="291.20" x2="286.10" y2="291.20" stroke="#000" stroke-width="1"/>
<line x1="282.60" y1="277.20" x2="289.10" y2="277.20" stroke="#000" stroke-width="1"/>
<line x1="282.90" y1="431.30" x2="282.90" y2="424.80" stroke="#000" stroke-width="1"/>
<line x1="296.35" y1="431.30" x2="296.35" y2="427.70" stroke="#000" stroke-width="1"/>
<line x1="309.80" y1="431.30" x2="309.80" y2="424.80" stroke="#000" stroke-width="1"/>
<line x1="323.25" y1="431.30" x2="323.25" y2="427.70" stroke="#000" stroke-width="1"/>
<line x1="336.70" y1="431.30" x2="336.70" y2="424.80" stroke="#000" stroke-width="1"/>
<line x1="350.15" y1="431.30" x2="350.15" y2="427.70" stroke="#000" stroke-width="1"/>
<line x1="363.60" y1="431.30" x2="363.60" y2="424.80" stroke="#000" stroke-width="1"/>
<line x1="377.05" y1="431.30" x2="377.05" y2="427.70" stroke="#000" stroke-width="1"/>
<line x1="390.50" y1="431.30" x2="390.50" y2="424.80" stroke="#000" stroke-width="1"/>
<line x1="403.95" y1="431.30" x2="403.95" y2="427.70" stroke="#000" stroke-width="1"/>
<line x1="417.40" y1="431.30" x2="417.40" y2="424.80" stroke="#000" stroke-width="1"/>
<line x1="430.85" y1="431.30" x2="430.85" y2="427.70" stroke="#000" stroke-width="1"/>
<line x1="444.30" y1="431.30" x2="444.30" y2="424.80" stroke="#000" stroke-width="1"/>
<text x="271.80" y="278.30" font-size="11.2" text-anchor="end" fill="#000" stroke="#000" stroke-width="0.2">4</text>
<text x="271.80" y="306.30" font-size="11.2" text-anchor="end" fill="#000" stroke="#000" stroke-width="0.2">3</text>
<text x="271.80" y="334.30" font-size="11.2" text-anchor="end" fill="#000" stroke="#000" stroke-width="0.2">2</text>
<text x="271.80" y="362.30" font-size="11.2" text-anchor="end" fill="#000" stroke="#000" stroke-width="0.2">1</text>
<text x="271.80" y="390.30" font-size="11.2" text-anchor="end" fill="#000" stroke="#000" stroke-width="0.2">0</text>
<text x="271.80" y="418.30" font-size="11.2" text-anchor="end" fill="#000" stroke="#000" stroke-width="0.2">-1</text>
<text x="282.90" y="448.60" font-size="11.0" text-anchor="middle" fill="#000" stroke="#000" stroke-width="0.2">-4</text>
<text x="309.80" y="448.60" font-size="11.0" text-anchor="middle" fill="#000" stroke="#000" stroke-width="0.2">-3</text>
<text x="336.70" y="448.60" font-size="11.0" text-anchor="middle" fill="#000" stroke="#000" stroke-width="0.2">-2</text>
<text x="363.60" y="448.60" font-size="11.0" text-anchor="middle" fill="#000" stroke="#000" stroke-width="0.2">-1</text>
<text x="390.50" y="448.60" font-size="11.0" text-anchor="middle" fill="#000" stroke="#000" stroke-width="0.2">0</text>
<text x="417.40" y="448.60" font-size="11.0" text-anchor="middle" fill="#000" stroke="#000" stroke-width="0.2">1</text>
<text x="444.30" y="448.60" font-size="11.0" text-anchor="middle" fill="#000" stroke="#000" stroke-width="0.2">2</text>
<text transform="translate(245.00,378.00) rotate(-90)" font-size="14.0" fill="#000" stroke="#000" stroke-width="0.2" text-anchor="start" letter-spacing="-0.6"><tspan font-size="14.0">P</tspan><tspan font-size="9.0" dy="4.8">FE</tspan><tspan font-size="14.0" dy="-4.8"> (&#956;C/cm</tspan><tspan font-size="9.0" dy="-5.5">2</tspan><tspan font-size="14.0" dy="5.5">)</tspan></text>
<text transform="translate(349.60,471.90)" font-size="14" fill="#000" stroke="#000" stroke-width="0.2" text-anchor="start" letter-spacing="-0.1"><tspan font-size="14">V</tspan><tspan font-size="8.5" dy="4.0">FE</tspan><tspan font-size="14" dy="-4.0"> (V)</tspan></text>
<text x="237.20" y="477.40" font-size="14.8" text-anchor="start" fill="#000" stroke="#000" stroke-width="0.2" letter-spacing="-0.4">(c)</text>
<rect x="307.40" y="273.40" width="61.80" height="20.80" fill="none" stroke="#000" stroke-width="1.1"/>
<text x="309.60" y="288.40" font-size="12.8" text-anchor="start" fill="#000" stroke="#000" stroke-width="0.2" letter-spacing="-0.12">C &#945; dP/dE</text>
<text x="328.20" y="372.60" font-size="11.4" text-anchor="start" fill="#000" stroke="#000" stroke-width="0.2" letter-spacing="-0.35">NC regions</text>
<path d="M283.00,425.50 C283.60,424.77 285.27,422.27 286.60,421.10 C287.93,419.93 288.93,419.22 291.00,418.50 C293.07,417.78 296.95,417.23 299.00,416.80 C301.05,416.37 301.20,416.45 303.30,415.90 C305.40,415.35 306.75,414.42 311.60,413.50 C316.45,412.58 322.67,411.25 332.40,410.40 C342.13,409.55 359.57,408.83 370.00,408.40 C380.43,407.97 388.23,408.08 395.00,407.80 C401.77,407.52 406.98,406.90 410.60,406.70 C414.22,406.50 415.20,406.83 416.70,406.60 C418.20,406.37 419.05,406.40 419.60,405.30 C420.15,404.20 419.98,401.43 420.00,400.00 C420.02,398.57 420.12,399.48 419.70,396.70 C419.28,393.92 418.57,388.30 417.50,383.30 C416.43,378.30 414.83,372.25 413.30,366.70 C411.77,361.15 410.10,356.12 408.30,350.00 C406.50,343.88 404.88,338.33 402.50,330.00 C400.12,321.67 396.07,307.70 394.00,300.00 C391.93,292.30 390.75,286.50 390.10,283.80" fill="none" stroke="#f00" stroke-width="1.6" stroke-linejoin="round" stroke-linecap="round"/>
<polyline points="390.10,283.80 393.10,283.50 394.00,274.20 394.90,273.70 395.70,270.70 396.60,272.40 397.50,273.70 398.80,276.40 401.00,275.50 402.60,275.90 401.90,265.40 403.60,264.60 404.90,265.00 408.00,271.10 411.50,279.90 414.50,287.70 417.60,291.70 418.50,293.00" fill="none" stroke="#f00" stroke-width="1.6" stroke-linejoin="round" stroke-linecap="round" />
<path d="M418.50,293.00 C418.28,293.47 417.70,294.82 417.20,295.80 C416.70,296.78 416.90,297.37 415.50,298.90 C414.10,300.43 411.95,302.97 408.80,305.00 C405.65,307.03 401.22,308.93 396.60,311.10 C391.98,313.27 386.22,315.80 381.10,318.00 C375.98,320.20 371.60,321.92 365.90,324.30 C360.20,326.68 353.22,329.55 346.90,332.30 C340.58,335.05 333.37,338.28 328.00,340.80 C322.63,343.32 318.82,345.35 314.70,347.40 C310.58,349.45 306.15,351.52 303.30,353.10 C300.45,354.68 299.03,355.63 297.60,356.90 C296.17,358.17 295.25,359.60 294.70,360.70 C294.15,361.80 294.37,363.03 294.30,363.50" fill="none" stroke="#f00" stroke-width="1.6" stroke-linejoin="round" stroke-linecap="round"/>
<polyline points="294.30,363.50 296.10,375.30 298.10,388.80 300.20,399.60 300.80,410.40 300.80,414.20 299.00,416.30 290.80,418.00 282.80,419.00" fill="none" stroke="#f00" stroke-width="1.6" stroke-linejoin="round" stroke-linecap="round" />
<line x1="302.60" y1="378.20" x2="304.25" y2="386.97" stroke="#f00" stroke-width="1.7"/>
<path d="M305.50,393.60 L299.90,385.50 L304.25,386.97 L307.77,384.02 Z" fill="#f00"/>
<line x1="414.80" y1="355.50" x2="413.24" y2="345.41" stroke="#f00" stroke-width="1.7"/>
<path d="M412.10,338.00 L417.38,347.30 L413.24,345.41 L409.87,348.46 Z" fill="#f00"/>
<line x1="282.60" y1="263.40" x2="445.50" y2="263.40" stroke="#3a3a3a" stroke-width="1.3"/>
<line x1="445.50" y1="263.40" x2="445.50" y2="431.30" stroke="#5a5a5a" stroke-width="1.4"/>
<line x1="282.60" y1="262.90" x2="282.60" y2="431.80" stroke="#111" stroke-width="1.1"/>
<line x1="282.10" y1="431.30" x2="446.00" y2="431.30" stroke="#000" stroke-width="1.1"/>
<line x1="499.40" y1="414.62" x2="502.40" y2="414.62" stroke="#000" stroke-width="1"/>
<line x1="499.40" y1="397.85" x2="505.40" y2="397.85" stroke="#000" stroke-width="1"/>
<line x1="499.40" y1="381.07" x2="502.40" y2="381.07" stroke="#000" stroke-width="1"/>
<line x1="499.40" y1="364.30" x2="505.40" y2="364.30" stroke="#000" stroke-width="1"/>
<line x1="499.40" y1="347.52" x2="502.40" y2="347.52" stroke="#000" stroke-width="1"/>
<line x1="499.40" y1="330.75" x2="505.40" y2="330.75" stroke="#000" stroke-width="1"/>
<line x1="499.40" y1="313.97" x2="502.40" y2="313.97" stroke="#000" stroke-width="1"/>
<line x1="499.40" y1="297.20" x2="505.40" y2="297.20" stroke="#000" stroke-width="1"/>
<line x1="499.40" y1="280.42" x2="502.40" y2="280.42" stroke="#000" stroke-width="1"/>
<line x1="507.60" y1="431.40" x2="507.60" y2="425.40" stroke="#000" stroke-width="1"/>
<line x1="523.95" y1="431.40" x2="523.95" y2="428.20" stroke="#000" stroke-width="1"/>
<line x1="540.30" y1="431.40" x2="540.30" y2="425.40" stroke="#000" stroke-width="1"/>
<line x1="556.65" y1="431.40" x2="556.65" y2="428.20" stroke="#000" stroke-width="1"/>
<line x1="573.00" y1="431.40" x2="573.00" y2="425.40" stroke="#000" stroke-width="1"/>
<line x1="589.35" y1="431.40" x2="589.35" y2="428.20" stroke="#000" stroke-width="1"/>
<line x1="605.70" y1="431.40" x2="605.70" y2="425.40" stroke="#000" stroke-width="1"/>
<line x1="622.05" y1="431.40" x2="622.05" y2="428.20" stroke="#000" stroke-width="1"/>
<line x1="638.40" y1="431.40" x2="638.40" y2="425.40" stroke="#000" stroke-width="1"/>
<line x1="645.90" y1="431.10" x2="639.90" y2="431.10" stroke="#f00" stroke-width="1"/>
<line x1="645.90" y1="407.30" x2="639.90" y2="407.30" stroke="#f00" stroke-width="1"/>
<line x1="645.90" y1="423.94" x2="642.70" y2="423.94" stroke="#f00" stroke-width="1"/>
<line x1="645.90" y1="419.74" x2="642.70" y2="419.74" stroke="#f00" stroke-width="1"/>
<line x1="645.90" y1="416.77" x2="642.70" y2="416.77" stroke="#f00" stroke-width="1"/>
<line x1="645.90" y1="414.46" x2="642.70" y2="414.46" stroke="#f00" stroke-width="1"/>
<line x1="645.90" y1="412.58" x2="642.70" y2="412.58" stroke="#f00" stroke-width="1"/>
<line x1="645.90" y1="410.99" x2="642.70" y2="410.99" stroke="#f00" stroke-width="1"/>
<line x1="645.90" y1="409.61" x2="642.70" y2="409.61" stroke="#f00" stroke-width="1"/>
<line x1="645.90" y1="408.39" x2="642.70" y2="408.39" stroke="#f00" stroke-width="1"/>
<line x1="645.90" y1="383.50" x2="639.90" y2="383.50" stroke="#f00" stroke-width="1"/>
<line x1="645.90" y1="400.14" x2="642.70" y2="400.14" stroke="#f00" stroke-width="1"/>
<line x1="645.90" y1="395.94" x2="642.70" y2="395.94" stroke="#f00" stroke-width="1"/>
<line x1="645.90" y1="392.97" x2="642.70" y2="392.97" stroke="#f00" stroke-width="1"/>
<line x1="645.90" y1="390.66" x2="642.70" y2="390.66" stroke="#f00" stroke-width="1"/>
<line x1="645.90" y1="388.78" x2="642.70" y2="388.78" stroke="#f00" stroke-width="1"/>
<line x1="645.90" y1="387.19" x2="642.70" y2="387.19" stroke="#f00" stroke-width="1"/>
<line x1="645.90" y1="385.81" x2="642.70" y2="385.81" stroke="#f00" stroke-width="1"/>
<line x1="645.90" y1="384.59" x2="642.70" y2="384.59" stroke="#f00" stroke-width="1"/>
<line x1="645.90" y1="359.70" x2="639.90" y2="359.70" stroke="#f00" stroke-width="1"/>
<line x1="645.90" y1="376.34" x2="642.70" y2="376.34" stroke="#f00" stroke-width="1"/>
<line x1="645.90" y1="372.14" x2="642.70" y2="372.14" stroke="#f00" stroke-width="1"/>
<line x1="645.90" y1="369.17" x2="642.70" y2="369.17" stroke="#f00" stroke-width="1"/>
<line x1="645.90" y1="366.86" x2="642.70" y2="366.86" stroke="#f00" stroke-width="1"/>
<line x1="645.90" y1="364.98" x2="642.70" y2="364.98" stroke="#f00" stroke-width="1"/>
<line x1="645.90" y1="363.39" x2="642.70" y2="363.39" stroke="#f00" stroke-width="1"/>
<line x1="645.90" y1="362.01" x2="642.70" y2="362.01" stroke="#f00" stroke-width="1"/>
<line x1="645.90" y1="360.79" x2="642.70" y2="360.79" stroke="#f00" stroke-width="1"/>
<line x1="645.90" y1="335.90" x2="639.90" y2="335.90" stroke="#f00" stroke-width="1"/>
<line x1="645.90" y1="352.54" x2="642.70" y2="352.54" stroke="#f00" stroke-width="1"/>
<line x1="645.90" y1="348.34" x2="642.70" y2="348.34" stroke="#f00" stroke-width="1"/>
<line x1="645.90" y1="345.37" x2="642.70" y2="345.37" stroke="#f00" stroke-width="1"/>
<line x1="645.90" y1="343.06" x2="642.70" y2="343.06" stroke="#f00" stroke-width="1"/>
<line x1="645.90" y1="341.18" x2="642.70" y2="341.18" stroke="#f00" stroke-width="1"/>
<line x1="645.90" y1="339.59" x2="642.70" y2="339.59" stroke="#f00" stroke-width="1"/>
<line x1="645.90" y1="338.21" x2="642.70" y2="338.21" stroke="#f00" stroke-width="1"/>
<line x1="645.90" y1="336.99" x2="642.70" y2="336.99" stroke="#f00" stroke-width="1"/>
<line x1="645.90" y1="312.10" x2="639.90" y2="312.10" stroke="#f00" stroke-width="1"/>
<line x1="645.90" y1="328.74" x2="642.70" y2="328.74" stroke="#f00" stroke-width="1"/>
<line x1="645.90" y1="324.54" x2="642.70" y2="324.54" stroke="#f00" stroke-width="1"/>
<line x1="645.90" y1="321.57" x2="642.70" y2="321.57" stroke="#f00" stroke-width="1"/>
<line x1="645.90" y1="319.26" x2="642.70" y2="319.26" stroke="#f00" stroke-width="1"/>
<line x1="645.90" y1="317.38" x2="642.70" y2="317.38" stroke="#f00" stroke-width="1"/>
<line x1="645.90" y1="315.79" x2="642.70" y2="315.79" stroke="#f00" stroke-width="1"/>
<line x1="645.90" y1="314.41" x2="642.70" y2="314.41" stroke="#f00" stroke-width="1"/>
<line x1="645.90" y1="313.19" x2="642.70" y2="313.19" stroke="#f00" stroke-width="1"/>
<line x1="645.90" y1="288.30" x2="639.90" y2="288.30" stroke="#f00" stroke-width="1"/>
<line x1="645.90" y1="304.94" x2="642.70" y2="304.94" stroke="#f00" stroke-width="1"/>
<line x1="645.90" y1="300.74" x2="642.70" y2="300.74" stroke="#f00" stroke-width="1"/>
<line x1="645.90" y1="297.77" x2="642.70" y2="297.77" stroke="#f00" stroke-width="1"/>
<line x1="645.90" y1="295.46" x2="642.70" y2="295.46" stroke="#f00" stroke-width="1"/>
<line x1="645.90" y1="293.58" x2="642.70" y2="293.58" stroke="#f00" stroke-width="1"/>
<line x1="645.90" y1="291.99" x2="642.70" y2="291.99" stroke="#f00" stroke-width="1"/>
<line x1="645.90" y1="290.61" x2="642.70" y2="290.61" stroke="#f00" stroke-width="1"/>
<line x1="645.90" y1="289.39" x2="642.70" y2="289.39" stroke="#f00" stroke-width="1"/>
<line x1="645.90" y1="264.50" x2="639.90" y2="264.50" stroke="#f00" stroke-width="1"/>
<line x1="645.90" y1="281.14" x2="642.70" y2="281.14" stroke="#f00" stroke-width="1"/>
<line x1="645.90" y1="276.94" x2="642.70" y2="276.94" stroke="#f00" stroke-width="1"/>
<line x1="645.90" y1="273.97" x2="642.70" y2="273.97" stroke="#f00" stroke-width="1"/>
<line x1="645.90" y1="271.66" x2="642.70" y2="271.66" stroke="#f00" stroke-width="1"/>
<line x1="645.90" y1="269.78" x2="642.70" y2="269.78" stroke="#f00" stroke-width="1"/>
<line x1="645.90" y1="268.19" x2="642.70" y2="268.19" stroke="#f00" stroke-width="1"/>
<line x1="645.90" y1="266.81" x2="642.70" y2="266.81" stroke="#f00" stroke-width="1"/>
<line x1="645.90" y1="265.59" x2="642.70" y2="265.59" stroke="#f00" stroke-width="1"/>
<text x="495.70" y="266.55" font-size="11.2" text-anchor="end" fill="#000" stroke="#000" stroke-width="0.2">50</text>
<text x="495.70" y="300.10" font-size="11.2" text-anchor="end" fill="#000" stroke="#000" stroke-width="0.2">40</text>
<text x="495.70" y="333.65" font-size="11.2" text-anchor="end" fill="#000" stroke="#000" stroke-width="0.2">30</text>
<text x="495.70" y="367.20" font-size="11.2" text-anchor="end" fill="#000" stroke="#000" stroke-width="0.2">20</text>
<text x="495.70" y="400.75" font-size="11.2" text-anchor="end" fill="#000" stroke="#000" stroke-width="0.2">10</text>
<text x="495.70" y="434.30" font-size="11.2" text-anchor="end" fill="#000" stroke="#000" stroke-width="0.2">0</text>
<text transform="translate(649.20,433.50)" font-size="11.4" fill="#f00" stroke="#f00" stroke-width="0.2" text-anchor="start"><tspan font-size="11.4">10</tspan><tspan font-size="8.0" dy="-5.0">-1</tspan></text>
<text transform="translate(649.20,409.70)" font-size="11.4" fill="#f00" stroke="#f00" stroke-width="0.2" text-anchor="start"><tspan font-size="11.4">10</tspan><tspan font-size="8.0" dy="-5.0">0</tspan></text>
<text transform="translate(649.20,385.90)" font-size="11.4" fill="#f00" stroke="#f00" stroke-width="0.2" text-anchor="start"><tspan font-size="11.4">10</tspan><tspan font-size="8.0" dy="-5.0">1</tspan></text>
<text transform="translate(649.20,362.10)" font-size="11.4" fill="#f00" stroke="#f00" stroke-width="0.2" text-anchor="start"><tspan font-size="11.4">10</tspan><tspan font-size="8.0" dy="-5.0">2</tspan></text>
<text transform="translate(649.20,338.30)" font-size="11.4" fill="#f00" stroke="#f00" stroke-width="0.2" text-anchor="start"><tspan font-size="11.4">10</tspan><tspan font-size="8.0" dy="-5.0">3</tspan></text>
<text transform="translate(649.20,314.50)" font-size="11.4" fill="#f00" stroke="#f00" stroke-width="0.2" text-anchor="start"><tspan font-size="11.4">10</tspan><tspan font-size="8.0" dy="-5.0">4</tspan></text>
<text transform="translate(649.20,290.70)" font-size="11.4" fill="#f00" stroke="#f00" stroke-width="0.2" text-anchor="start"><tspan font-size="11.4">10</tspan><tspan font-size="8.0" dy="-5.0">5</tspan></text>
<text transform="translate(649.20,266.90)" font-size="11.4" fill="#f00" stroke="#f00" stroke-width="0.2" text-anchor="start"><tspan font-size="11.4">10</tspan><tspan font-size="8.0" dy="-5.0">6</tspan></text>
<text x="507.60" y="445.40" font-size="10.8" text-anchor="middle" fill="#000" stroke="#000" stroke-width="0.2">-0.4</text>
<text x="540.30" y="445.40" font-size="10.8" text-anchor="middle" fill="#000" stroke="#000" stroke-width="0.2">-0.2</text>
<text x="573.00" y="445.40" font-size="10.8" text-anchor="middle" fill="#000" stroke="#000" stroke-width="0.2">0.0</text>
<text x="605.70" y="445.40" font-size="10.8" text-anchor="middle" fill="#000" stroke="#000" stroke-width="0.2">0.2</text>
<text x="638.40" y="445.40" font-size="10.8" text-anchor="middle" fill="#000" stroke="#000" stroke-width="0.2">0.4</text>
<text transform="translate(470.50,375.30) rotate(-90)" font-size="13.8" fill="#000" stroke="#000" stroke-width="0.2" text-anchor="start" letter-spacing="-0.15"><tspan font-size="13.8">g</tspan><tspan font-size="8.3" dy="4.0">m</tspan><tspan font-size="13.8" dy="-4.0">/I</tspan><tspan font-size="8.3" dy="4.0">d</tspan><tspan font-size="13.8" dy="-4.0"> (V</tspan><tspan font-size="8.3" dy="-5.0">-1</tspan><tspan font-size="13.8" dy="5.0">)</tspan></text>
<text transform="translate(681.50,375.30) rotate(-90)" font-size="13.8" fill="#f00" stroke="#f00" stroke-width="0.2" text-anchor="start" letter-spacing="-0.15"><tspan font-size="13.8">g</tspan><tspan font-size="8.3" dy="4.0">m</tspan><tspan font-size="13.8" dy="-4.0">/I</tspan><tspan font-size="8.3" dy="4.0">d</tspan><tspan font-size="13.8" dy="-4.0"> (V</tspan><tspan font-size="8.3" dy="-5.0">-1</tspan><tspan font-size="13.8" dy="5.0">)</tspan></text>
<text transform="translate(548.80,470.80)" font-size="14" fill="#000" stroke="#000" stroke-width="0.2" text-anchor="start" letter-spacing="-0.45"><tspan font-size="14">V</tspan><tspan font-size="8.5" dy="4.0">gs_eff</tspan><tspan font-size="14" dy="-4.0"> (V)</tspan></text>
<text x="459.60" y="477.40" font-size="14.8" text-anchor="start" fill="#000" stroke="#000" stroke-width="0.2" letter-spacing="-0.4">(d)</text>
<polyline points="499.70,390.50 513.70,392.40 520.90,394.50 528.80,401.30 545.90,382.60 553.20,389.30 554.20,381.60 561.50,289.60 570.00,277.10 571.80,311.20 574.60,344.90 577.80,408.80 587.40,409.50 602.20,412.20 610.20,405.80 619.40,411.50 635.30,410.40 643.30,425.90 645.30,422.50" fill="none" stroke="#f00" stroke-width="1.5" stroke-linejoin="round" stroke-linecap="round" />
<polyline points="505.30,406.50 506.30,379.90 507.80,350.40 509.50,374.30 511.30,366.60 513.00,328.30 514.60,331.60 516.00,354.90 517.10,311.60 518.80,325.80 520.50,303.30 522.10,320.00 523.80,332.40 525.50,305.00 527.10,303.30 528.80,313.30 530.40,306.70 532.10,305.00 532.90,300.00 535.40,310.00 538.80,306.70 541.30,316.60 543.00,303.30 545.40,300.00 546.30,325.80 549.60,323.30 551.20,306.70 552.90,315.00 554.60,304.20 556.20,330.00 557.90,310.00 559.60,339.90 561.20,315.00 562.90,312.50 564.60,359.90 566.20,320.00 567.90,333.30 569.50,364.90 571.20,321.60 572.90,353.20 573.70,374.50 576.40,355.10 579.40,385.90 581.70,374.50 584.00,372.90 586.30,387.10 588.50,391.60 590.80,406.50 594.20,397.40 596.50,400.80 598.80,397.40 602.20,408.80 605.70,405.30 609.10,409.90 614.80,413.30 615.90,420.20 619.40,414.50 621.60,420.20 623.90,416.80 626.20,422.50 630.80,421.30 635.30,422.50 638.80,424.70 643.30,423.60 645.30,424.70" fill="none" stroke="#000" stroke-width="1.5" stroke-linejoin="round" stroke-linecap="round" />
<ellipse cx="537.20" cy="309.30" rx="5.20" ry="19.00" fill="none" stroke="#000" stroke-width="1.2" transform="rotate(0 537.20 309.30)"/>
<line x1="537.20" y1="290.20" x2="523.10" y2="290.20" stroke="#000" stroke-width="1.4"/>
<path d="M517.10,290.20 L525.10,286.90 L523.10,290.20 L525.10,293.50 Z" fill="#000"/>
<ellipse cx="553.80" cy="386.20" rx="5.60" ry="11.90" fill="none" stroke="#f00" stroke-width="1.3" transform="rotate(0 553.80 386.20)"/>
<line x1="555.20" y1="398.20" x2="563.80" y2="398.20" stroke="#f00" stroke-width="1.5"/>
<path d="M569.80,398.20 L561.80,401.50 L563.80,398.20 L561.80,394.90 Z" fill="#f00"/>
<text x="506.20" y="282.60" font-size="9.9" text-anchor="start" fill="#000" stroke="#000" stroke-width="0.2" letter-spacing="-0.65">Baseline FET</text>
<text x="541.70" y="412.20" font-size="9.9" text-anchor="start" fill="#f00" stroke="#f00" stroke-width="0.2" letter-spacing="-0.95">NC-FET</text>
<rect x="572.70" y="267.50" width="67.50" height="16.50" fill="#fff" stroke="#000" stroke-width="1.1"/>
<text x="574.00" y="278.70" font-size="10.9" text-anchor="start" fill="#000" stroke="#000" stroke-width="0.2" letter-spacing="-0.5">forward sweep</text>
<line x1="499.40" y1="263.80" x2="645.90" y2="263.80" stroke="#505050" stroke-width="1.3"/>
<line x1="645.90" y1="263.80" x2="645.90" y2="431.40" stroke="#f00" stroke-width="1.2"/>
<line x1="499.40" y1="263.30" x2="499.40" y2="431.90" stroke="#111" stroke-width="1.1"/>
<line x1="498.90" y1="431.40" x2="646.40" y2="431.40" stroke="#000" stroke-width="1.1"/>
</svg></body></html>
